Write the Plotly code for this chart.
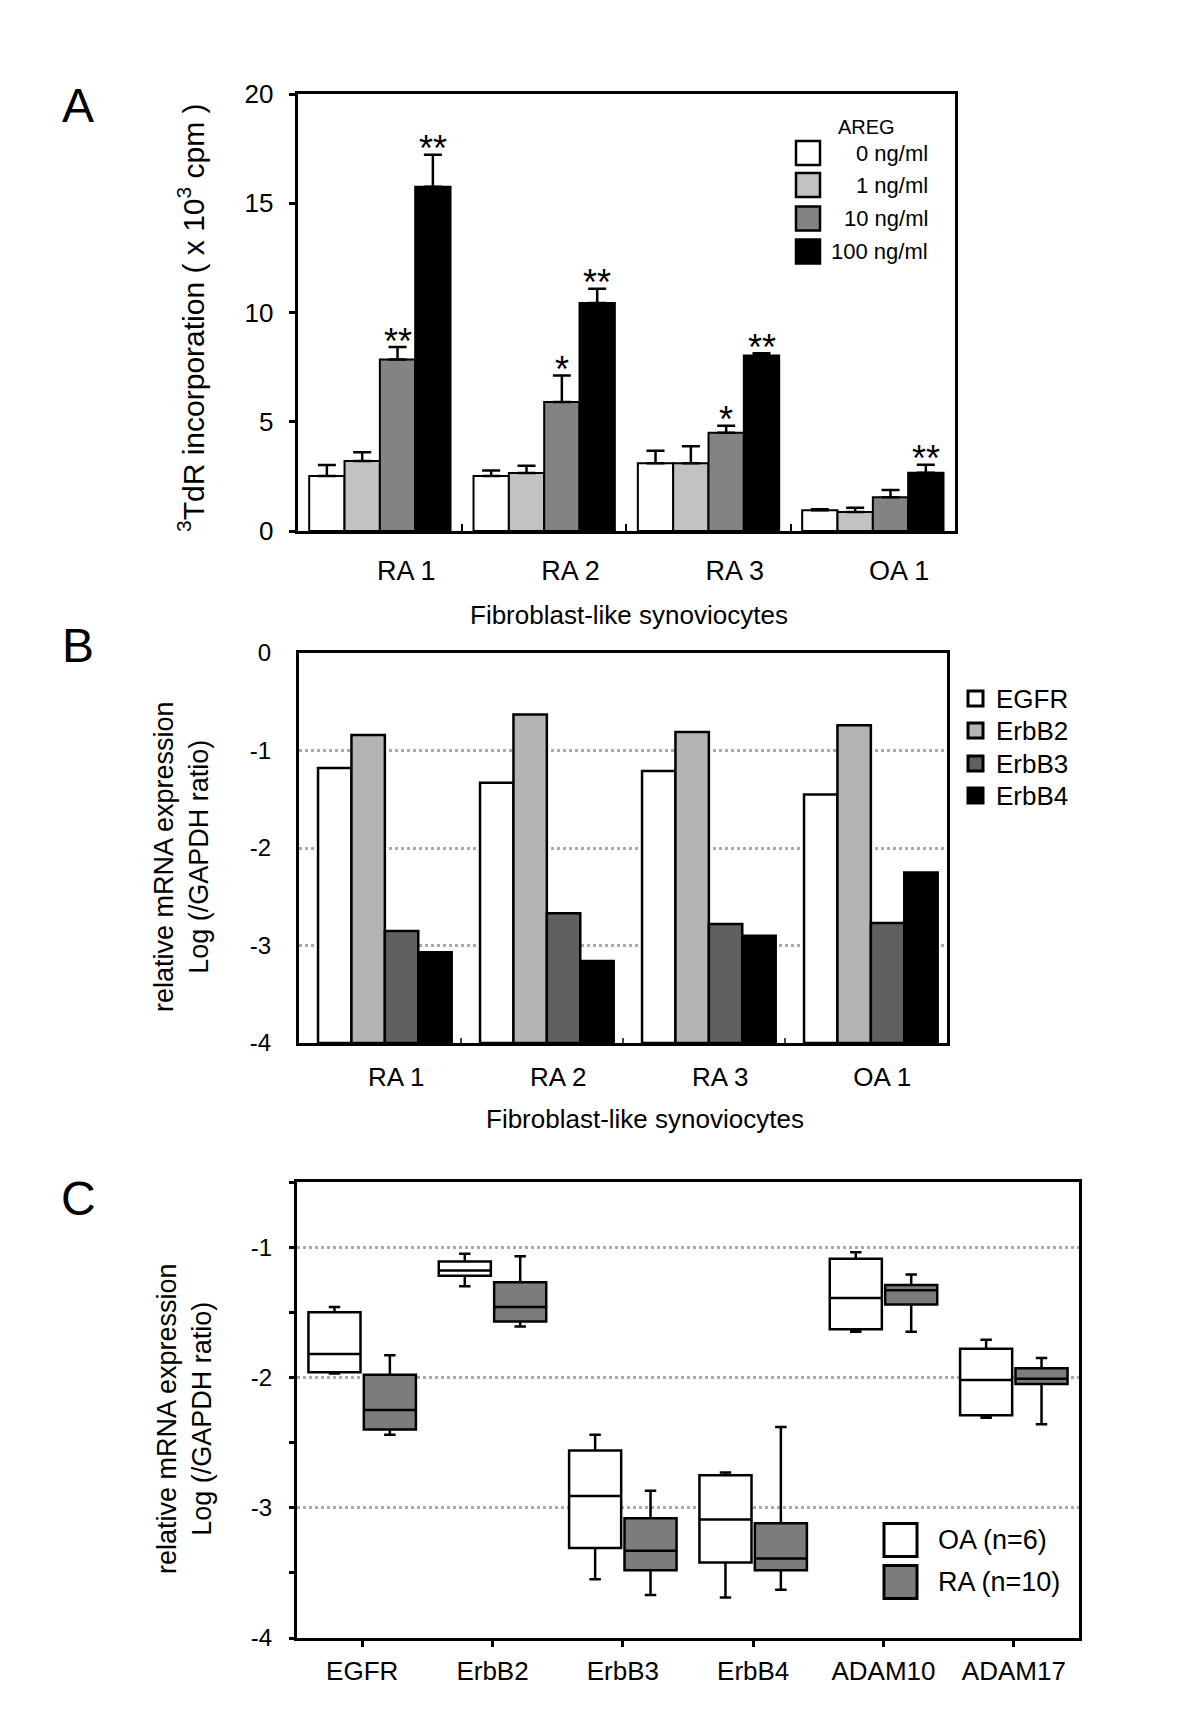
import plotly.graph_objects as go

W, H = 1200, 1734
FONT = "Arial, 'Liberation Sans', Helvetica, sans-serif"
PAGE_OFFSET = 8  # default page margin around the plot div

# ---------------- Panel A data ----------------
fls_lines = ["RA 1", "RA 2", "RA 3", "OA 1"]
areg_doses = ["0 ng/ml", "1 ng/ml", "10 ng/ml", "100 ng/ml"]
areg_colors = ["#ffffff", "#c2c2c2", "#838383", "#000000"]
tdr_0 = [2.52, 2.52, 3.1, 0.95]
tdr_1 = [3.2, 2.66, 3.1, 0.87]
tdr_10 = [7.85, 5.9, 4.5, 1.55]
tdr_100 = [15.75, 10.43, 8.03, 2.67]
err_0 = [0.5, 0.25, 0.57, 0.04]
err_1 = [0.4, 0.33, 0.78, 0.19]
err_10 = [0.57, 1.22, 0.32, 0.33]
err_100 = [1.47, 0.66, 0.11, 0.36]
sig_10 = ["**", "*", "*", ""]
sig_100 = ["**", "**", "**", "**"]
a_yticks = [0, 5, 10, 15, 20]

# ---------------- Panel B data ----------------
receptors = ["EGFR", "ErbB2", "ErbB3", "ErbB4"]
receptor_colors = ["#ffffff", "#b4b4b4", "#606060", "#000000"]
egfr_log = [-1.18, -1.33, -1.21, -1.45]
erbb2_log = [-0.84, -0.63, -0.81, -0.74]
erbb3_log = [-2.85, -2.67, -2.78, -2.77]
erbb4_log = [-3.07, -3.16, -2.90, -2.25]
b_yticks = [0, -1, -2, -3, -4]
b_yticktext = ["0", "-1", "-2", "-3", "-4"]

# ---------------- Panel C data ----------------
genes = ["EGFR", "ErbB2", "ErbB3", "ErbB4", "ADAM10", "ADAM17"]
groups = ["OA (n=6)", "RA (n=10)"]
group_colors = ["#ffffff", "#7c7c7c"]
oa_upper = [-1.46, -1.05, -2.44, -2.73, -1.04, -1.71]
oa_q3 = [-1.50, -1.11, -2.56, -2.75, -1.09, -1.78]
oa_median = [-1.82, -1.18, -2.91, -3.09, -1.39, -2.02]
oa_q1 = [-1.96, -1.22, -3.31, -3.42, -1.63, -2.29]
oa_lower = [-1.97, -1.30, -3.55, -3.69, -1.65, -2.31]
ra_upper = [-1.83, -1.07, -2.87, -2.38, -1.21, -1.85]
ra_q3 = [-1.98, -1.27, -3.08, -3.12, -1.29, -1.93]
ra_median = [-2.25, -1.46, -3.33, -3.39, -1.33, -2.01]
ra_q1 = [-2.40, -1.57, -3.48, -3.48, -1.44, -2.05]
ra_lower = [-2.44, -1.61, -3.67, -3.63, -1.65, -2.36]
c_yticks = [-1, -2, -3, -4]
c_yticktext = ["-1", "-2", "-3", "-4"]
c_yminor = [-3.5, -2.5, -1.5, -0.5]


def px(x):
    return (x - PAGE_OFFSET) / W


def py(y):
    return 1 - (y - PAGE_OFFSET) / H


fig = go.Figure()
annotations = []
shapes = []

# ---------------- Panel A ----------------
A_GAP = 0.14
tdr_series = [tdr_0, tdr_1, tdr_10, tdr_100]
err_series = [err_0, err_1, err_10, err_100]
xa = list(range(len(fls_lines)))
for j, (name, col, vals, errs) in enumerate(zip(areg_doses, areg_colors, tdr_series, err_series)):
    fig.add_trace(go.Bar(
        x=xa, y=vals, name=name, xaxis="x", yaxis="y",
        marker=dict(color=col, line=dict(color="black", width=2)),
        error_y=dict(type="data", array=errs, arrayminus=[0] * len(errs), symmetric=False,
                     color="black", thickness=2.5, width=9),
        showlegend=False, offsetgroup=str(j),
    ))

nA = len(areg_doses)
groupw = 1 - A_GAP
for j, (vals, errs, sigs) in [(2, (tdr_10, err_10, sig_10)), (3, (tdr_100, err_100, sig_100))]:
    off = -groupw / 2 + groupw / nA * (j + 0.5)
    for i, s in enumerate(sigs):
        if s:
            annotations.append(dict(x=i + off, y=vals[i] + errs[i], xref="x", yref="y",
                                    text=s, showarrow=False, xanchor="center",
                                    yanchor="middle", yshift=6,
                                    font=dict(size=36, color="black", family=FONT)))

# ---------------- Panel B ----------------
B_BASE = -4
B_GROUPW = 0.825
B_SHIFT = 0.03
b_series = [egfr_log, erbb2_log, erbb3_log, erbb4_log]
xb = list(range(len(fls_lines)))
bw = B_GROUPW / len(receptors)
for j, (name, col, vals) in enumerate(zip(receptors, receptor_colors, b_series)):
    fig.add_trace(go.Bar(
        x=xb, y=[v - B_BASE for v in vals], base=B_BASE, name=name, xaxis="x2", yaxis="y2",
        width=bw, offset=-B_GROUPW / 2 + B_SHIFT + bw * j,
        marker=dict(color=col, line=dict(color="black", width=2.5)),
        showlegend=False,
    ))

# ---------------- Panel C ----------------
c_stats = [
    (oa_lower, oa_q1, oa_median, oa_q3, oa_upper),
    (ra_lower, ra_q1, ra_median, ra_q3, ra_upper),
]
for g, col, (lo, q1, med, q3, up) in zip(groups, group_colors, c_stats):
    fig.add_trace(go.Box(
        x=genes, lowerfence=lo, q1=q1, median=med, q3=q3, upperfence=up,
        name=g, xaxis="x3", yaxis="y3", fillcolor=col,
        line=dict(color="black", width=2.5), whiskerwidth=0.22,
        boxpoints=False, showlegend=False,
    ))

# ---------------- Layout / axes ----------------
frame = dict(showline=True, linecolor="black", linewidth=3, mirror=True, zeroline=False,
             automargin=False)


def tickfont(s):
    return dict(size=s, color="black", family=FONT)


layout = dict(
    width=W, height=H, margin=dict(l=0, r=0, t=0, b=0, autoexpand=False),
    paper_bgcolor="white", plot_bgcolor="white",
    font=dict(family=FONT, color="black"),
    barmode="group", bargap=A_GAP, bargroupgap=0,
    boxmode="group", boxgap=0.15, boxgroupgap=0.06,
    # Panel A axes
    xaxis=dict(domain=[px(297.7), px(955)], anchor="y", range=[-0.5, len(fls_lines) - 0.5],
               tickvals=[i + 0.16 for i in xa], ticktext=fls_lines, ticks="",
               tickfont=tickfont(27), ticklabelstandoff=14, showgrid=False,
               minor=dict(tickvals=[i + 0.5 for i in xa[:-1]], ticks="inside", ticklen=7,
                          tickwidth=2, tickcolor="black", showgrid=False),
               **frame),
    yaxis=dict(domain=[py(531), py(94)], anchor="x", range=[0, 20], tickvals=a_yticks,
               ticks="outside", ticklen=6, tickwidth=2.5, tickcolor="black",
               tickfont=tickfont(26), ticklabelstandoff=10, showgrid=False, **frame),
    # Panel B axes
    xaxis2=dict(domain=[px(299), px(947)], anchor="y2", range=[-0.5, len(fls_lines) - 0.5],
                tickvals=[i + 0.1 for i in xb], ticktext=fls_lines, ticks="",
                tickfont=tickfont(26), ticklabelstandoff=9, showgrid=False,
                minor=dict(tickvals=[i + 0.5 for i in xb[:-1]], ticks="inside", ticklen=5,
                           tickwidth=1.5, tickcolor="#444444", showgrid=False),
                **frame),
    yaxis2=dict(domain=[py(1043), py(653)], anchor="x2", range=[-4, 0],
                tickvals=b_yticks, ticktext=b_yticktext, ticks="", tickfont=tickfont(24),
                ticklabelstandoff=20, showgrid=True, gridcolor="#aaaaaa", gridwidth=2.5,
                griddash="dot", **frame),
    # Panel C axes
    xaxis3=dict(domain=[px(297), px(1079)], anchor="y3", type="category",
                ticks="outside", ticklen=6, tickwidth=2.5, tickcolor="black",
                tickfont=tickfont(26), ticklabelstandoff=2, showgrid=False, **frame),
    yaxis3=dict(domain=[py(1638), py(1182)], anchor="x3", range=[-4, -0.5],
                tickvals=c_yticks, ticktext=c_yticktext, ticks="outside", ticklen=5,
                tickwidth=2.5, tickcolor="black", tickfont=tickfont(24), ticklabelstandoff=12,
                showgrid=True, gridcolor="#aaaaaa", gridwidth=2.5, griddash="dot",
                minor=dict(tickvals=c_yminor, ticks="outside", ticklen=5,
                           tickwidth=2.5, tickcolor="black", showgrid=False),
                **frame),
)


# ---------------- Text annotations ----------------
def txt(x, y, text, size, xanchor="center", **kw):
    d = dict(x=px(x), y=py(y), xref="paper", yref="paper", text=text, showarrow=False,
             xanchor=xanchor, yanchor="middle",
             font=dict(size=size, color="black", family=FONT))
    d.update(kw)
    annotations.append(d)


# panel letters
txt(78, 105, "A", 48)
txt(78, 645, "B", 48)
txt(78, 1198, "C", 48)

# axis titles
txt(191, 318, "<sup>3</sup>TdR incorporation ( x 10<sup>3</sup> cpm )", 30, textangle=-90)
txt(629, 615, "Fibroblast-like synoviocytes", 26)
txt(181, 857, "relative mRNA expression<br>Log (/GAPDH ratio)", 27, textangle=-90)
txt(645, 1119, "Fibroblast-like synoviocytes", 26)
txt(184, 1419, "relative mRNA expression<br>Log (/GAPDH ratio)", 27, textangle=-90)

# ---------------- Manual legends ----------------
# Panel A
txt(866, 127, "AREG", 20)
a_rows = [153, 185, 218.5, 251.5]
for name, col, yc in zip(areg_doses, areg_colors, a_rows):
    shapes.append(dict(type="rect", xref="paper", yref="paper",
                       x0=px(796), x1=px(820), y0=py(yc + 12), y1=py(yc - 12),
                       fillcolor=col, line=dict(color="black", width=2.5)))
    txt(930, yc, name, 22, xanchor="right")

# Panel B
b_rows = [698.5, 730.5, 763.5, 795.5]
for name, col, yc in zip(receptors, receptor_colors, b_rows):
    shapes.append(dict(type="rect", xref="paper", yref="paper",
                       x0=px(968), x1=px(983), y0=py(yc + 7.5), y1=py(yc - 7.5),
                       fillcolor=col, line=dict(color="black", width=3)))
    txt(994, yc, name, 26, xanchor="left")

# Panel C
c_rows = [1540, 1582]
for name, col, yc in zip(groups, group_colors, c_rows):
    shapes.append(dict(type="rect", xref="paper", yref="paper",
                       x0=px(884), x1=px(917), y0=py(yc + 16.5), y1=py(yc - 16.5),
                       fillcolor=col, line=dict(color="black", width=3)))
    txt(936, yc, name, 27, xanchor="left")

layout["annotations"] = annotations
layout["shapes"] = shapes
fig.update_layout(**layout)

fig.write_html("out.html")
